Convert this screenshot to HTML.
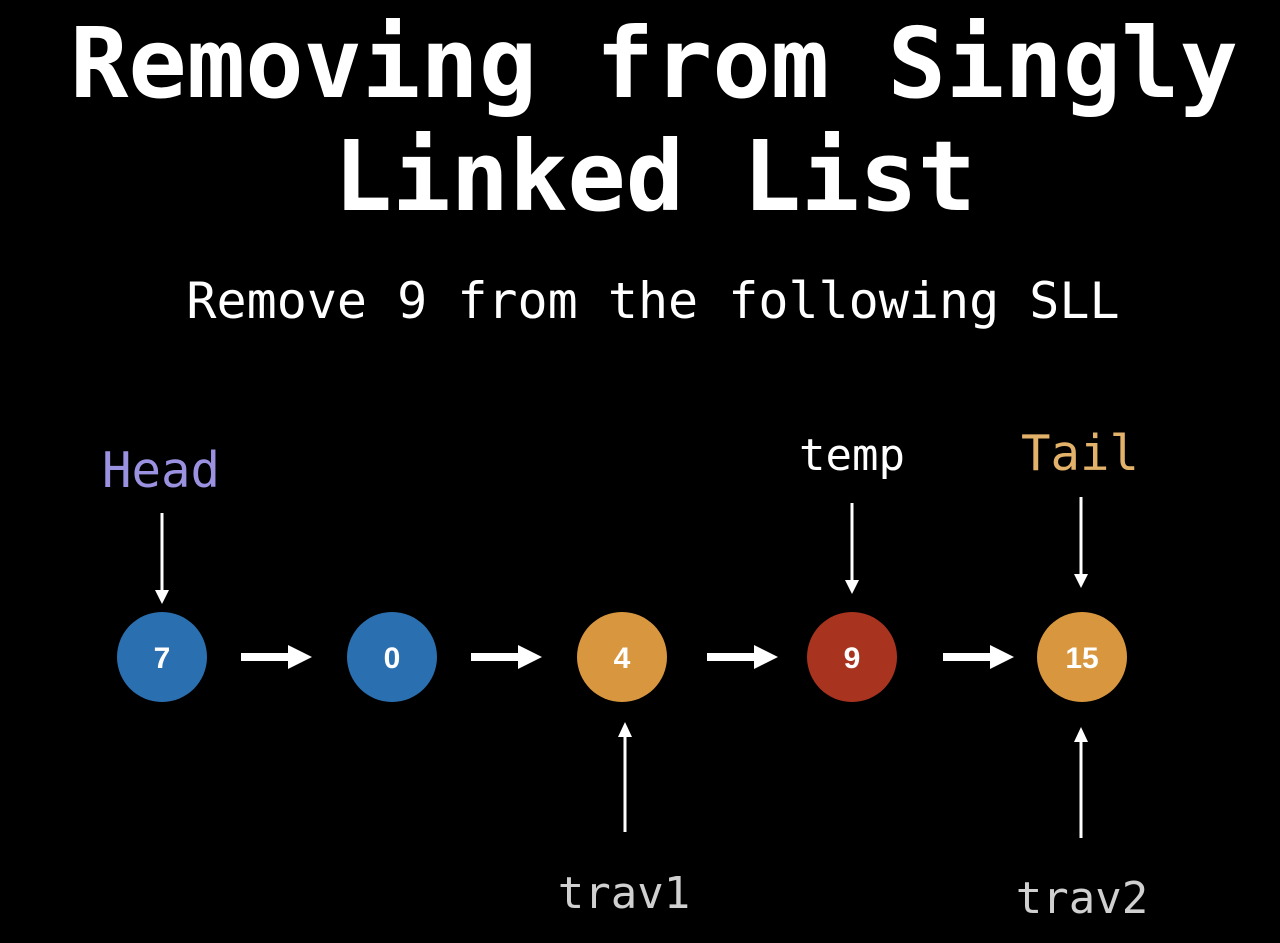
<!DOCTYPE html>
<html><head><style>
html,body{margin:0;padding:0;background:#000;}
svg{display:block}
</style></head><body>
<svg width="1280" height="943" viewBox="0 0 1280 943" xmlns="http://www.w3.org/2000/svg">
<rect width="1280" height="943" fill="#000"/>
<g font-family="'DejaVu Sans Mono','Liberation Mono',monospace" text-anchor="middle">
<text x="654" y="97" font-size="97" font-weight="bold" fill="#fff">Removing from Singly</text>
<text x="655" y="210" font-size="97" font-weight="bold" fill="#fff">Linked List</text>
<text x="653" y="318" font-size="50" fill="#fff">Remove 9 from the following SLL</text>
<text x="161" y="487" font-size="49" fill="#9a92e0">Head</text>
<text x="852" y="470" font-size="44" fill="#fff">temp</text>
<text x="1080" y="470" font-size="49" fill="#e3b26a">Tail</text>
<text x="624" y="908" font-size="44" fill="#d0d0d0">trav1</text>
<text x="1082" y="913" font-size="44" fill="#d0d0d0">trav2</text>
</g>
<g stroke="#fff" stroke-width="3">
<line x1="162" y1="513" x2="162" y2="592"/>
<line x1="852" y1="503" x2="852" y2="582"/>
<line x1="1081" y1="497" x2="1081" y2="577"/>
<line x1="625" y1="832" x2="625" y2="735"/>
<line x1="1081" y1="838" x2="1081" y2="740"/>
</g>
<g fill="#fff">
<polygon points="155,590 169,590 162,604"/>
<polygon points="845,580 859,580 852,594"/>
<polygon points="1074,574 1088,574 1081,588"/>
<polygon points="618,737 632,737 625,722"/>
<polygon points="1074,742 1088,742 1081,727"/>
</g>
<g fill="#fff">
<rect x="241" y="653" width="50" height="8"/><polygon points="288,645 312,657 288,669"/>
<rect x="471" y="653" width="50" height="8"/><polygon points="518,645 542,657 518,669"/>
<rect x="707" y="653" width="50" height="8"/><polygon points="754,645 778,657 754,669"/>
<rect x="943" y="653" width="50" height="8"/><polygon points="990,645 1014,657 990,669"/>
</g>
<circle cx="162" cy="657" r="45" fill="#2a6fb0"/>
<circle cx="392" cy="657" r="45" fill="#2a6fb0"/>
<circle cx="622" cy="657" r="45" fill="#d8973e"/>
<circle cx="852" cy="657" r="45" fill="#a8341f"/>
<circle cx="1082" cy="657" r="45" fill="#d8973e"/>
<g font-family="'Liberation Sans',sans-serif" font-weight="bold" font-size="30" fill="#fff" text-anchor="middle">
<text x="162" y="668">7</text>
<text x="392" y="668">0</text>
<text x="622" y="668">4</text>
<text x="852" y="668">9</text>
<text x="1082" y="668">15</text>
</g>
</svg>
</body></html>
